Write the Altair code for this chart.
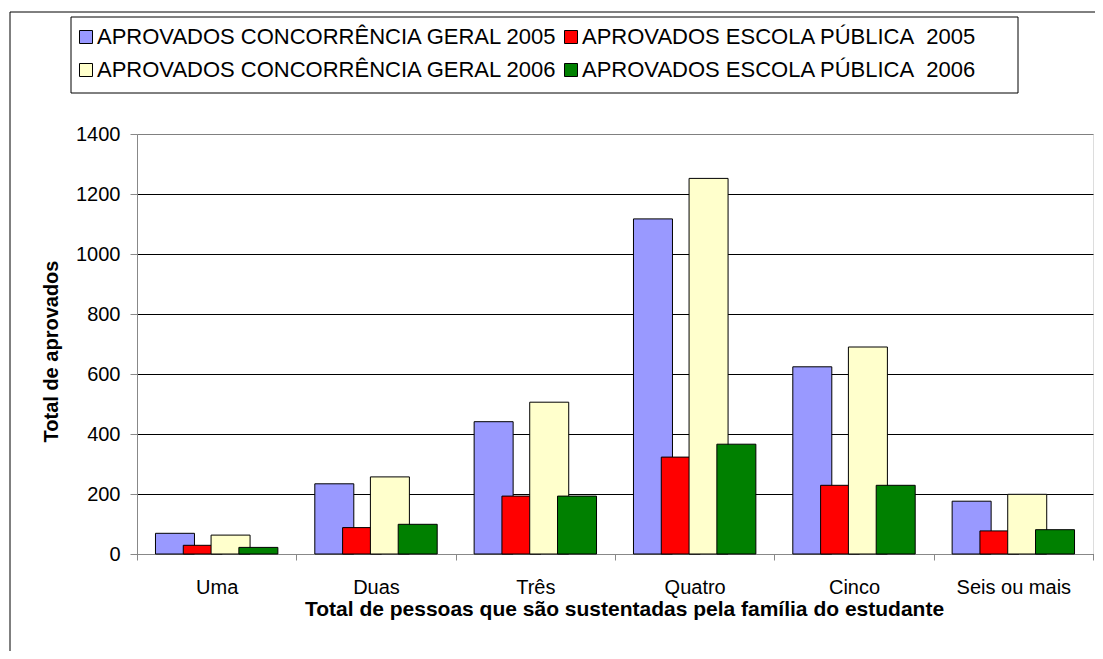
import altair as alt
import pandas as pd

categorias = ["Uma", "Duas", "Três", "Quatro", "Cinco", "Seis ou mais"]
series = [
    "APROVADOS CONCORRÊNCIA GERAL 2005",
    "APROVADOS ESCOLA PÚBLICA\u00a0 2005",
    "APROVADOS CONCORRÊNCIA GERAL 2006",
    "APROVADOS ESCOLA PÚBLICA\u00a0 2006",
]
cg2005 = [69, 234, 441, 1117, 624, 176]
ep2005 = [29, 88, 193, 323, 229, 77]
cg2006 = [63, 257, 506, 1252, 690, 199]
ep2006 = [22, 99, 193, 366, 229, 81]
cores = ["#9999FF", "#FF0000", "#FFFFCC", "#008000"]
y_ticks = [0, 200, 400, 600, 800, 1000, 1200, 1400]

rows = []
for s, vals in zip(series, [cg2005, ep2005, cg2006, ep2006]):
    for c, v in zip(categorias, vals):
        rows.append({"cat": c, "serie": s, "valor": v})
df = pd.DataFrame(rows)

# legend fills column by column: order entries so rows read as in the original
leg_order = [0, 2, 1, 3]
leg_domain = [series[i] for i in leg_order]
leg_range = [cores[i] for i in leg_order]

FONT = "Liberation Sans"

bars = alt.Chart(df).mark_bar(width=39, stroke="black", strokeWidth=1).encode(
    x=alt.X(
        "cat:N",
        sort=categorias,
        scale=alt.Scale(paddingInner=0, paddingOuter=0),
        title="Total de pessoas que são sustentadas pela família do estudante",
        axis=alt.Axis(
            tickBand="extent", tickSize=6, labelPadding=17, labelAngle=0,
            labelFontSize=20, grid=False,
            titleFontSize=21, titleFontWeight="bold", titleX=487, titleY=61,
            titleBaseline="alphabetic", titleAlign="center",
        ),
    ),
    xOffset=alt.XOffset("serie:N", sort=series,
                        scale=alt.Scale(paddingInner=0, paddingOuter=0.866)),
    y=alt.Y(
        "valor:Q",
        scale=alt.Scale(domain=[0, 1400], nice=False),
        title="Total de aprovados",
        axis=alt.Axis(
            values=y_ticks, format="d", tickSize=7, labelPadding=10, labelFontSize=20,
            grid=True,
            gridColor={"condition": {"test": "datum.value >= 1400", "value": "#808080"}, "value": "black"},
            titleFontSize=20, titleFontWeight="bold", titleX=-80, titleY=217,
            titleBaseline="alphabetic", titleAngle=270,
        ),
    ),
    color=alt.Color(
        "serie:N",
        scale=alt.Scale(domain=leg_domain, range=leg_range),
        legend=alt.Legend(
            title=None, orient="none", legendX=-66, legendY=-116, columns=2,
            symbolType="square", symbolSize=169, symbolStrokeColor="black",
            symbolStrokeWidth=1, symbolOffset=-4, labelFontSize=22, labelFont=FONT,
            labelLimit=1000, labelOffset=0, padding=8, rowPadding=11,
            columnPadding=4,
        ),
    ),
)

one = pd.DataFrame({"k": [0]})
frame_left = alt.Chart(one).mark_rule(color="black", strokeWidth=1).encode(
    x=alt.value(-127), y=alt.value(-122), y2=alt.value(517)
)
frame_top = alt.Chart(one).mark_rule(color="black", strokeWidth=1).encode(
    x=alt.value(-127), x2=alt.value(958), y=alt.value(-122)
)
legend_box = alt.Chart(one).mark_rect(fill="white", stroke="black", strokeWidth=1).encode(
    x=alt.value(-66), x2=alt.value(881), y=alt.value(-117), y2=alt.value(-41)
)

chart = alt.layer(frame_left, frame_top, legend_box, bars).properties(
    width=956,
    height=420,
    autosize=alt.AutoSizeParams(type="none"),
    padding={"left": 129, "top": 126, "right": 2, "bottom": 97},
).configure_view(
    stroke="#808080", strokeWidth=1
).configure_axis(
    domainColor="black", tickColor="black", labelColor="black", titleColor="black",
    labelFont=FONT, titleFont=FONT, domainWidth=1, tickWidth=1, gridWidth=1,
).configure(background="white")

chart.save("out.html", embed_options={"renderer": "svg", "actions": False})
